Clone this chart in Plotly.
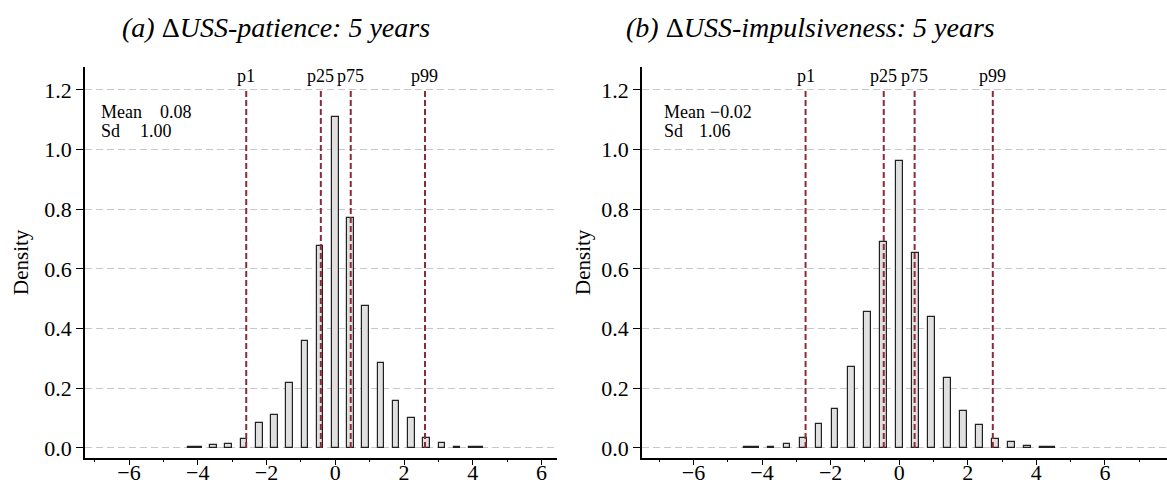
import plotly.graph_objects as go

# ---------------- data ----------------
left_x = [-4.20, -3.98, -3.54, -3.10, -2.65, -2.21, -1.77, -1.33, -0.88, -0.44, 0.00,
          0.44, 0.88, 1.33, 1.77, 2.21, 2.65, 3.10, 3.54, 3.98, 4.20]
left_d = [0.002, 0.002, 0.009, 0.013, 0.030, 0.085, 0.110, 0.217, 0.360, 0.678, 1.111,
          0.770, 0.477, 0.286, 0.158, 0.100, 0.035, 0.016, 0.004, 0.002, 0.002]

right_x = [-4.43, -4.20, -3.74, -3.27, -2.80, -2.34, -1.87, -1.40, -0.93, -0.47, 0.00,
           0.47, 0.93, 1.40, 1.87, 2.34, 2.80, 3.27, 3.74, 4.20, 4.43]
right_d = [0.002, 0.002, 0.004, 0.013, 0.033, 0.081, 0.132, 0.273, 0.457, 0.690, 0.963,
           0.655, 0.440, 0.236, 0.124, 0.077, 0.030, 0.019, 0.005, 0.002, 0.002]

pct_labels = ["p1", "p25", "p75", "p99"]
left_pct = [-2.59, -0.42, 0.45, 2.61]
right_pct = [-2.73, -0.45, 0.45, 2.73]

left_stats = ["0.08", "1.00"]
right_stats = ["\u22120.02", "1.06"]

titles = ["<i>(a) </i>\u0394<i>USS-patience: 5 years</i>",
          "<i>(b) </i>\u0394<i>USS-impulsiveness: 5 years</i>"]

y_ticks = [0.0, 0.2, 0.4, 0.6, 0.8, 1.0, 1.2]
x_ticks = [-6, -4, -2, 0, 2, 4, 6]

# ---------------- layout helpers ----------------
W, H = 1167, 486
FONT = "Liberation Serif"
def px(x):
    return x / W
def py(y):
    return 1 - y / H

BAR_FILL = "#e0e0e0"
PCT_COLOR = "#8e2a38"
GRID = "#c8c8c8"

fig = go.Figure()

fig.add_trace(go.Bar(x=left_x, y=left_d, width=0.19, xaxis="x", yaxis="y",
                     marker=dict(color=BAR_FILL, line=dict(color="#222222", width=1.2)),
                     showlegend=False))
fig.add_trace(go.Bar(x=right_x, y=right_d, width=0.2, xaxis="x2", yaxis="y2",
                     marker=dict(color=BAR_FILL, line=dict(color="#222222", width=1.2)),
                     showlegend=False))

ydom = [py(457.5), py(67)]
common_x = dict(showgrid=False, zeroline=False, showline=True, linecolor="black", linewidth=1.5,
                automargin=False, ticklabelstandoff=-12,
                ticks="outside", ticklen=6, tickwidth=1.3, tickcolor="black",
                tickvals=x_ticks, ticktext=[("\u2212%d" % -v) if v < 0 else str(v) for v in x_ticks],
                tickfont=dict(family=FONT, size=22, color="black"),
                minor=dict(ticks="outside", ticklen=3, tickwidth=1.2, tickcolor="black",
                           tick0=1, dtick=2, showgrid=False))
common_y = dict(range=[-0.032, 1.277], showgrid=True, gridcolor=GRID, gridwidth=1.2,
                griddash="7px,4px", zeroline=False, showline=True, linecolor="black",
                automargin=False,
                linewidth=1.5, ticks="outside", ticklen=7, tickwidth=1.3, tickcolor="black",
                tickvals=y_ticks, ticktext=["%.1f" % v for v in y_ticks],
                tickfont=dict(family=FONT, size=22, color="black"))

fig.update_layout(
    width=W, height=H, margin=dict(l=0, r=0, t=0, b=0, pad=0),
    paper_bgcolor="white", plot_bgcolor="white",
    font=dict(family=FONT, color="black"),
    bargap=0,
    xaxis=dict(domain=[px(85), px(557)], range=[-7.28, 6.45], anchor="y", **common_x),
    yaxis=dict(domain=ydom, anchor="x", **common_y),
    xaxis2=dict(domain=[px(642), 1.0], range=[-7.50, 7.81], anchor="y2", **common_x),
    yaxis2=dict(domain=ydom, anchor="x2", **common_y),
)

shapes = []
annotations = []
for xr, yr, pcts in (("x", "y", left_pct), ("x2", "y2", right_pct)):
    for lab, v in zip(pct_labels, pcts):
        shapes.append(dict(type="line", xref=xr, yref=yr, x0=v, x1=v, y0=0, y1=1.2,
                           line=dict(color=PCT_COLOR, width=2, dash="6px,3px"), layer="above"))
        annotations.append(dict(xref=xr, yref=yr, x=v, y=1.2, text=lab, showarrow=False,
                                yanchor="bottom", xanchor="center", yshift=2,
                                font=dict(family=FONT, size=18, color="black")))

# stats boxes
for x0, xvals, stats in ((99, (157.7, 137.7), left_stats), (662, (708, 697), right_stats)):
    for i, (name, val) in enumerate(zip(["Mean", "Sd"], stats)):
        yy = 111.7 + 19 * i
        annotations.append(dict(xref="paper", yref="paper", x=px(x0), y=py(yy), text=name,
                                showarrow=False, xanchor="left", yanchor="middle",
                                font=dict(family=FONT, size=18, color="black")))
        annotations.append(dict(xref="paper", yref="paper", x=px(xvals[i]), y=py(yy), text=val,
                                showarrow=False, xanchor="left", yanchor="middle",
                                font=dict(family=FONT, size=18, color="black")))

# titles
for cx, t in zip((276, 810), titles):
    annotations.append(dict(xref="paper", yref="paper", x=px(cx), y=py(27), text=t,
                            showarrow=False, xanchor="center", yanchor="middle",
                            font=dict(family=FONT, size=28, color="black")))

# y axis titles
for cx in (21, 583):
    annotations.append(dict(xref="paper", yref="paper", x=px(cx), y=py(262), text="Density",
                            showarrow=False, textangle=-90, xanchor="center", yanchor="middle",
                            font=dict(family=FONT, size=21, color="black")))

fig.update_layout(shapes=shapes, annotations=annotations)
fig.write_html("out.html")
